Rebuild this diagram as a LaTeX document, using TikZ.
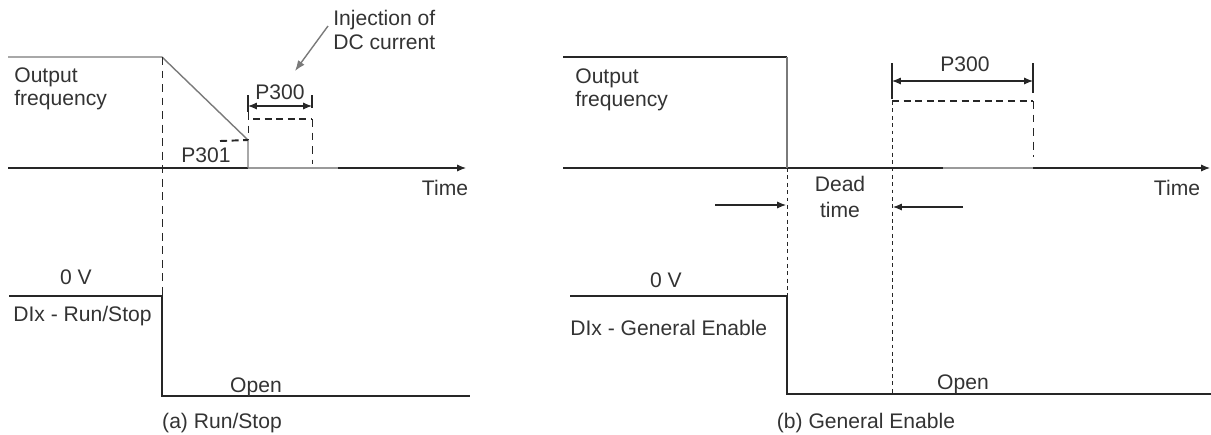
\documentclass[tikz,border=0pt]{standalone}
\usepackage{fontspec}
\setmainfont{Liberation Sans}
\usetikzlibrary{arrows.meta}
\definecolor{ink}{HTML}{262626}
\definecolor{txt}{HTML}{333333}
\definecolor{curve}{HTML}{7A7A7A}
\definecolor{lite}{HTML}{9A9A9A}
\begin{document}
\begin{tikzpicture}[x=0.02cm,y=-0.02cm,
  lbl/.style={font=\fontsize{12}{13}\selectfont, text=txt, inner sep=0pt, align=left},
  clbl/.style={text=txt, inner sep=0pt, align=center},
  tipA/.tip={Latex[length=5pt,width=4pt]},
  axisline/.style={draw=ink, line width=0.6pt, -tipA},
  sig/.style={draw=ink, line width=0.7pt},
  freq/.style={draw=curve, line width=0.8pt},
  guide/.style={draw=ink, line width=0.5pt, dash pattern=on 4.5pt off 3.2pt},
  fineguide/.style={draw=ink, line width=0.5pt, dash pattern=on 2.2pt off 2pt},
  dcbar/.style={draw=ink, line width=1.1pt, dash pattern=on 4pt off 2.6pt},
  dimline/.style={draw=ink, line width=0.6pt, tipA-tipA},
  ticks/.style={draw=ink, line width=0.6pt},
  pointer/.style={draw=ink, line width=0.6pt, -tipA},
  grayptr/.style={draw=curve, line width=0.8pt, -{Latex[length=6pt,width=4.5pt]}},
]
\useasboundingbox (0,0) rectangle (1211,434);

% ================= Panel (a) =================
\coordinate (aF0) at (8,57);
\coordinate (aF1) at (162,57);
\coordinate (aF2) at (248,140);
\coordinate (aF3) at (248,168);
\coordinate (aAx0) at (8,168);
\coordinate (aAx1) at (466,168);
\coordinate (aLite1) at (338,168);
\coordinate (aG0) at (162,57);
\coordinate (aG1) at (162,296);
\coordinate (aP1a) at (220,141);
\coordinate (aLt0) at (248,95);
\coordinate (aLt1) at (248,112);
\coordinate (aRt0) at (312,95);
\coordinate (aRt1) at (312,108);
\coordinate (aRt2) at (312,119);
\coordinate (aRt3) at (312,164);
\coordinate (aDC0) at (253,119);
\coordinate (aDm0) at (248,106);
\coordinate (aDm1) at (312,106);
\coordinate (aPt0) at (328,26);
\coordinate (aPt1) at (295,71);
\coordinate (aS0) at (9,296);
\coordinate (aS1) at (162,296);
\coordinate (aS2) at (162,396);
\coordinate (aS3) at (470,396);

\draw[axisline] (aAx0) -- (aAx1);
\draw[draw=lite, line width=0.8pt] (aF3) -- (aLite1);
\draw[freq] (aF0) -- (aF1) -- (aF2) -- (aF3);
\draw[guide] (aG0) -- (aG1);
\draw[dcbar] (aP1a) -- (aF2);
\draw[ticks] (aLt0) -- (aLt1);
\draw[guide] (aLt1) -- (aF2);
\draw[ticks] (aRt0) -- (aRt1);
\draw[guide] (aRt2) -- (aRt3);
\draw[dcbar] (aDC0) -- (aRt2);
\draw[dimline] (aDm0) -- (aDm1);
\draw[grayptr] (aPt0) -- (aPt1);
\draw[sig] (aS0) -- (aS1) -- (aS2) -- (aS3);

\node[lbl, anchor=base west] (aOut) at (14,105) {Output\\frequency};
\node[lbl, anchor=base west] (aP301) at (181,162) {P301};
\node[lbl, anchor=base] (aP300) at (280,99) {P300};
\node[lbl, font=\fontsize{12}{13.6}\selectfont, anchor=base west] (aInj) at (333,49) {Injection of\\DC current};
\node[lbl, anchor=base] (aTime) at (445,195) {Time};
\node[lbl, anchor=base] (a0V) at (76,284) {0 V};
\node[lbl, anchor=base west] (aDI) at (13,321) {DIx - Run/Stop};
\node[lbl, anchor=base] (aOpen) at (256,392) {Open};
\node[lbl, anchor=base] (aCap) at (222,428) {(a) Run/Stop};

% ================= Panel (b) =================
\coordinate (bF0) at (563,57);
\coordinate (bF1) at (787,57);
\coordinate (bF2) at (787,168);
\coordinate (bAx0) at (563,168);
\coordinate (bAx1) at (1210,168);
\coordinate (bBold0) at (870,168);
\coordinate (bBold1) at (943,168);
\coordinate (bLite1) at (1033,168);
\coordinate (bG0) at (787,168);
\coordinate (bG1) at (787,296);
\coordinate (bH0) at (892,63);
\coordinate (bH1) at (892,99);
\coordinate (bH2) at (892,101);
\coordinate (bH3) at (892,394);
\coordinate (bR0) at (1033,63);
\coordinate (bR1) at (1033,93);
\coordinate (bR2) at (1033,101);
\coordinate (bR3) at (1033,157);
\coordinate (bDm0) at (892,81);
\coordinate (bDm1) at (1033,81);
\coordinate (bArL) at (715,205);
\coordinate (bArLt) at (786,205);
\coordinate (bArR) at (963,207);
\coordinate (bArRt) at (893,207);
\coordinate (bS0) at (570,296);
\coordinate (bS1) at (787,296);
\coordinate (bS2) at (787,394);
\coordinate (bS3) at (1211,394);

\draw[axisline] (bAx0) -- (bAx1);
\draw[draw=lite, line width=0.9pt] (bBold1) -- (bLite1);
\draw[draw=ink, line width=1.2pt] (bBold0) -- (bBold1);
\draw[sig] (bF0) -- (bF1);
\draw[freq] (bF1) -- (bF2);
\draw[fineguide] (bG0) -- (bG1);
\draw[ticks] (bH0) -- (bH1);
\draw[fineguide] (bH2) -- (bH3);
\draw[ticks] (bR0) -- (bR1);
\draw[guide] (bR2) -- (bR3);
\draw[dcbar] (bH2) -- (bR2);
\draw[dimline] (bDm0) -- (bDm1);
\draw[pointer] (bArL) -- (bArLt);
\draw[pointer] (bArR) -- (bArRt);
\draw[sig] (bS0) -- (bS1) -- (bS2) -- (bS3);

\node[lbl, anchor=base west] (bOut) at (575,106) {Output\\frequency};
\node[lbl, anchor=base] (bP300) at (965,71) {P300};
\node[clbl, font=\fontsize{12}{14.7}\selectfont, anchor=base] (bDead) at (840,217) {Dead\\time};
\node[lbl, anchor=base] (bTime) at (1177,195) {Time};
\node[lbl, anchor=base] (b0V) at (666,287) {0 V};
\node[lbl, anchor=base west] (bDI) at (570,335) {DIx - General Enable};
\node[lbl, anchor=base] (bOpen) at (963,389) {Open};
\node[lbl, anchor=base] (bCap) at (866,428) {(b) General Enable};
\end{tikzpicture}
\end{document}
